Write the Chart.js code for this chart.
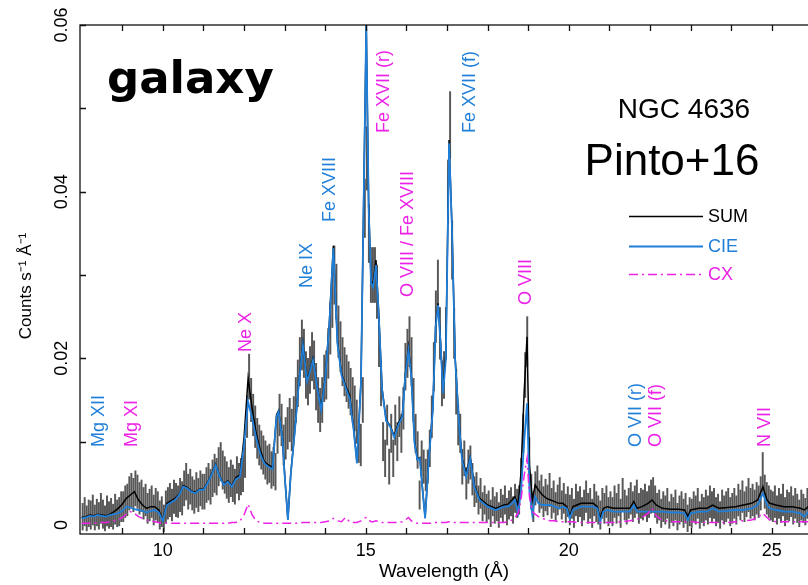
<!DOCTYPE html>
<html><head><meta charset="utf-8">
<script src="https://cdn.jsdelivr.net/npm/chart.js@4.4.1/dist/chart.umd.min.js"></script>
<style>html,body{margin:0;padding:0;background:#fff;} canvas{display:block;}</style>
</head><body>
<canvas id="c" width="808" height="585"></canvas>
<script>
// ---------- data (counts in units of 1e-4 counts s^-1 A^-1) ----------
const UNIT = 1e-4;
const binStart = 8.025;   // first bin centre (A)
const binWidth = 0.05;    // bin width (A)
const countsData = [
 10,16,8,14,12,18,9,15,11,20,13,8,17,12,15,10,19,14,16,22,
 22,28,30,38,42,36,44,40,32,35,26,30,20,24,28,18,25,22,12,16,
 8,22,26,30,24,34,30,28,36,32,44,52,40,46,38,34,42,36,44,40,
 40,48,52,46,56,62,58,70,76,66,60,54,48,56,50,46,60,52,58,62,
 80,130,178,150,132,118,104,96,90,84,78,72,74,66,70,64,110,132,120,96,
 104,116,126,114,128,150,170,196,216,206,180,172,186,202,192,166,150,138,150,176,
 180,206,236,270,300,280,232,214,196,184,176,168,160,150,140,124,100,96,150,380,
 440,350,300,300,300,280,220,170,100,80,120,70,110,80,120,100,130,110,140,190,
 206,220,196,150,110,90,36,80,70,60,70,92,130,190,250,285,230,170,180,230,
 400,480,330,230,160,120,110,70,80,50,70,75,55,40,45,30,38,22,30,20,
 24,14,28,18,22,12,26,20,30,16,24,28,18,32,26,30,60,110,180,220,
 80,40,22,44,50,34,40,28,36,30,42,26,34,22,30,38,24,32,20,28,
 18,26,14,30,22,28,16,24,34,20,26,14,30,22,18,12,26,20,28,16,
 22,16,28,20,30,14,36,24,18,26,32,22,28,34,20,26,24,30,22,28,
 34,36,28,20,24,14,22,18,26,12,20,16,24,10,18,22,14,20,8,16,
 14,22,18,26,12,20,16,24,18,28,22,26,16,20,12,24,18,22,26,16,
 20,26,18,30,24,34,22,28,36,26,30,24,32,28,38,62,40,32,28,24,
 22,28,18,26,20,30,16,24,22,28,18,26,20,14,24,20,16,26,18,22
];
const countsErr = [
 16,17,15,16,17,18,15,16,16,18,17,15,18,16,17,15,18,16,17,18,
 18,19,19,20,20,20,21,20,19,19,19,19,18,19,19,18,19,18,17,18,
 16,19,19,20,19,20,20,19,20,20,21,22,21,21,20,20,21,20,21,21,
 21,21,22,21,22,23,22,23,23,23,22,22,21,22,22,21,22,22,22,22,
 23,25,27,26,25,25,24,24,23,23,23,23,23,22,23,22,24,25,25,24,
 25,25,26,25,26,27,28,29,30,29,28,28,28,29,29,28,27,26,27,28,
 29,30,31,33,35,33,31,30,29,29,28,28,28,27,27,26,25,25,27,35,
 38,35,33,33,33,32,30,27,23,22,24,21,23,22,24,23,24,23,25,28,
 29,30,29,26,23,22,17,21,20,19,20,22,25,29,31,33,31,27,28,31,
 38,40,35,30,27,24,23,21,21,19,20,20,19,18,18,17,18,17,17,17,
 17,16,17,16,17,15,17,16,17,16,17,17,16,17,17,17,20,23,27,30,
 25,21,18,20,21,19,20,18,19,18,20,18,19,17,18,19,17,18,17,18,
 18,18,17,19,18,18,17,18,19,18,18,17,19,18,17,17,18,18,19,17,
 18,17,19,18,19,17,20,18,17,18,19,18,19,20,18,18,18,19,18,19,
 20,21,19,18,18,17,18,17,18,16,17,17,18,16,17,18,17,18,16,17,
 17,18,17,18,16,17,17,18,17,19,18,18,17,17,16,18,17,18,18,17,
 18,18,17,19,18,19,18,18,20,18,19,18,19,19,20,25,20,19,19,18,
 18,19,17,18,17,19,17,18,17,18,17,18,17,16,18,17,16,18,17,17
];
const modelWave = [
 8.0,8.1,8.2,8.3,8.4,8.5,8.6,8.7,8.8,8.9,
 9.0,9.1,9.2,9.3,9.4,9.5,9.6,9.7,9.8,9.9,
 10.0,10.1,10.2,10.3,10.4,10.5,10.6,10.7,10.8,10.9,
 11.0,11.1,11.2,11.3,11.4,11.5,11.6,11.7,11.8,11.9,
 12.0,12.1,12.2,12.3,12.4,12.5,12.6,12.7,12.8,12.85,12.95,
 13.0,13.08,13.15,13.25,13.35,13.45,13.55,13.6,13.7,13.8,13.9,
 14.0,14.1,14.2,14.3,14.4,14.5,14.6,14.7,14.78,14.88,14.95,
 15.01,15.07,15.13,15.18,15.25,15.32,15.4,15.5,15.6,15.7,15.8,15.9,15.97,
 16.05,16.12,16.2,16.27,16.33,16.4,16.46,16.55,16.65,16.72,16.78,16.84,16.9,16.97,
 17.05,17.12,17.2,17.3,17.37,17.47,17.57,17.67,17.8,17.9,
 18.0,18.1,18.2,18.3,18.4,18.5,18.6,18.67,18.75,18.82,18.9,18.97,
 19.03,19.1,19.17,19.25,19.35,19.45,19.55,19.65,19.75,19.85,19.95,
 20.02,20.1,20.2,20.3,20.45,20.6,20.7,20.77,20.85,20.95,
 21.1,21.3,21.5,21.6,21.68,21.8,21.95,22.05,22.15,22.3,22.5,22.7,22.85,22.93,
 23.0,23.2,23.4,23.54,23.7,23.9,24.1,24.3,24.5,24.65,24.78,24.88,24.95,
 25.1,25.3,25.5,25.7,25.8,25.9
];
const cieVals = [
 8,9,11,10,12,11,10,12,13,14,
 17,22,21,19,18,17,15,17,18,15,
 5,24,27,30,36,46,44,40,38,42,
 42,50,60,72,58,48,52,46,55,58,
 95,148,128,104,85,74,70,67,130,136,102,
 60,6,60,112,170,216,172,180,198,165,138,
 175,240,332,218,180,165,152,114,74,170,400,
 600,380,290,285,312,250,162,125,118,105,120,130,178,
 210,178,98,78,80,40,8,78,138,238,264,218,158,198,
 458,358,198,118,78,58,80,46,30,26,
 22,20,18,20,22,22,26,30,14,40,100,146,
 40,12,34,26,24,24,24,22,20,22,20,
 8,18,20,22,22,22,20,4,16,18,
 16,16,16,24,16,16,16,16,16,16,15,15,14,6,
 14,16,16,20,16,17,18,18,20,24,38,24,20,
 18,16,16,14,10,16
];
const sumVals = [
 9,10,12,11,13,12,11,13,16,20,
 25,32,36,40,30,24,20,22,22,18,
 6,26,29,32,37,47,45,41,39,43,
 43,51,61,73,59,49,53,47,57,60,
 105,176,140,110,90,76,72,69,132,137,103,
 61,7,61,113,171,218,174,182,200,167,140,
 177,242,335,220,182,167,156,116,76,172,402,
 600,382,292,290,318,252,164,126,119,107,122,132,180,
 214,180,100,79,81,41,9,79,140,240,266,220,162,205,
 462,360,200,120,80,62,82,48,32,28,
 24,22,20,22,24,25,30,34,24,62,160,226,
 72,30,48,42,36,32,30,28,26,26,22,
 10,22,24,26,26,26,22,8,20,22,
 20,20,20,28,20,22,26,30,24,20,19,19,18,10,
 18,20,20,24,20,21,22,24,26,30,46,30,26,
 24,22,22,20,18,22
];
const cxVals = [
 2,2,2,2,3,3,3,4,5,6,
 9,13,16,14,10,8,6,5,4,3,
 2,2,2,2,2,2,2,2,2,2,
 2,2,2,2,2,2,2,3,3,5,
 12,25,12,5,3,2,2,2,2,2,2,
 2,2,2,2,2,3,3,3,3,3,3,
 4,5,8,5,4,9,4,3,3,5,8,
 9,6,4,4,5,4,3,3,3,3,3,4,6,
 9,5,3,2,2,2,2,2,2,3,3,3,3,3,
 4,3,3,3,3,3,3,3,3,3,
 3,3,3,3,3,4,6,9,14,30,60,80,
 34,16,13,10,8,6,5,5,4,4,4,
 4,4,3,3,3,3,3,3,3,3,
 3,4,5,6,7,9,14,20,11,6,4,4,4,4,
 4,3,3,3,3,3,4,5,6,9,14,9,6,
 4,4,4,4,4,4
];
const xTickLabels = [10, 15, 20, 25];
const yTickLabels = [0, 0.02, 0.04, 0.06];
const lineNames = ['Mg XII','Mg XI','Ne X','Ne IX','Fe XVIII','Fe XVII (r)','O VIII / Fe XVIII','Fe XVII (f)','O VIII','O VII (r)','O VII (f)','N VII'];
const lineWaves = [8.42, 9.24, 12.04, 13.54, 14.13, 15.45, 16.04, 17.57, 18.94, 21.65, 22.14, 24.82];
const lineComponent = ['CIE','CX','CX','CIE','CIE','CX','CX','CIE','CX','CIE','CX','CX'];
const seriesNames = ['SUM','CIE','CX'];

// ---------- layout / style ----------
const lineLabelBase = [0.00936,0.00936,0.02076,0.02844,0.03636,0.04704,0.02736,0.04704,0.0264,0.00936,0.00936,0.00936];
const BLUE = '#1f7fd9', MAGENTA = '#ec22e6', GRAY = '#575757';
const FAM = '"Liberation Sans", Arial, Helvetica, sans-serif';
Chart.defaults.font.family = FAM;
Chart.defaults.color = '#000';

const barData = countsData.map((v, i) => ({
  x: binStart + i * binWidth,
  y: [(v - countsErr[i]) * UNIT, (v + countsErr[i]) * UNIT]
}));
const mk = arr => modelWave.map((w, i) => ({ x: w, y: arr[i] * UNIT }));

const overlay = {
  id: 'overlay',
  afterDraw(chart) {
    const { ctx, chartArea: a, scales: { x, y } } = chart;
    ctx.save();
    // frame
    ctx.strokeStyle = '#111'; ctx.lineWidth = 1.3;
    ctx.strokeRect(a.left, a.top, a.right - a.left + 4, a.bottom - a.top);
    // inward ticks
    ctx.beginPath();
    x.ticks.forEach(t => {
      if (Math.abs(t.value - Math.round(t.value)) > 1e-6) return;
      const px = Math.round(x.getPixelForValue(t.value)) + 0.5;
      if (px <= a.left + 3) return;
      ctx.moveTo(px, a.bottom); ctx.lineTo(px, a.bottom - 6);
      ctx.moveTo(px, a.top); ctx.lineTo(px, a.top + 6);
    });
    y.ticks.forEach(t => {
      const r = t.value / 0.01;
      if (t.value < -1e-9 || Math.abs(r - Math.round(r)) > 1e-6) return;
      const py = Math.round(y.getPixelForValue(t.value)) + 0.5;
      ctx.moveTo(a.left, py); ctx.lineTo(a.left + 6, py);
    });
    ctx.stroke();
    // y tick labels (rotated)
    ctx.fillStyle = '#000';
    ctx.font = '18px ' + FAM;
    ctx.textAlign = 'center'; ctx.textBaseline = 'middle';
    yTickLabels.forEach(v => {
      const py = y.getPixelForValue(v);
      ctx.save(); ctx.translate(62, py); ctx.rotate(-Math.PI / 2);
      ctx.fillText(v === 0 ? '0' : v.toFixed(2), 0, 0); ctx.restore();
    });
    // y title
    ctx.font = '17px ' + FAM;
    ctx.save(); ctx.translate(26, 286); ctx.rotate(-Math.PI / 2);
    ctx.fillText('Counts s\u207B\u00B9 \u00C5\u207B\u00B9', 0, 0); ctx.restore();
    // line identifications
    ctx.font = '18px ' + FAM;
    ctx.textAlign = 'left'; ctx.textBaseline = 'middle';
    lineNames.forEach((n, i) => {
      const px = x.getPixelForValue(lineWaves[i]);
      const py = y.getPixelForValue(lineLabelBase[i]);
      ctx.fillStyle = lineComponent[i] === 'CIE' ? BLUE : MAGENTA;
      ctx.save(); ctx.translate(px, py); ctx.rotate(-Math.PI / 2);
      ctx.fillText(n, 0, 0); ctx.restore();
    });
    // legend
    const legY = [216, 246, 274];
    const ds = chart.data.datasets;
    seriesNames.forEach((n, i) => {
      const d = ds[i];
      ctx.strokeStyle = d.borderColor; ctx.lineWidth = d.borderWidth;
      ctx.setLineDash(d.borderDash || []);
      ctx.beginPath(); ctx.moveTo(629, legY[i] + 0.5); ctx.lineTo(703, legY[i] + 0.5); ctx.stroke();
      ctx.setLineDash([]);
      ctx.fillStyle = i === 0 ? '#000' : d.borderColor;
      ctx.font = '18px ' + FAM;
      ctx.textAlign = 'left'; ctx.textBaseline = 'middle';
      ctx.fillText(n, 708, legY[i] + 1);
    });
    // titles
    ctx.fillStyle = '#000';
    ctx.textBaseline = 'alphabetic';
    ctx.textAlign = 'center';
    ctx.font = '28px ' + FAM;
    ctx.fillText('NGC 4636', 684, 118);
    ctx.font = '44px ' + FAM;
    ctx.fillText('Pinto+16', 672, 175);
    ctx.textAlign = 'left';
    ctx.font = 'bold 45px "DejaVu Sans", sans-serif';
    ctx.fillText('galaxy', 107, 93);
    ctx.restore();
  }
};

new Chart(document.getElementById('c'), {
  type: 'line',
  data: {
    datasets: [
      { label: 'SUM', data: mk(sumVals), borderColor: '#000', borderWidth: 1.5, pointRadius: 0, tension: 0, order: 2 },
      { label: 'CIE', data: mk(cieVals), borderColor: BLUE, borderWidth: 1.8, pointRadius: 0, tension: 0, order: 1 },
      { label: 'CX', data: mk(cxVals), borderColor: MAGENTA, borderWidth: 1.5, borderDash: [9, 4, 2, 4], pointRadius: 0, tension: 0, order: 0 },
      { type: 'bar', label: 'data', data: barData, backgroundColor: GRAY, borderWidth: 0, barThickness: 1.3, order: 3 }
    ]
  },
  options: {
    responsive: false,
    animation: false,
    events: [],
    layout: { padding: { top: 25, right: 0, left: 0, bottom: 0 } },
    plugins: { legend: { display: false }, tooltip: { enabled: false } },
    scales: {
      x: {
        type: 'linear', min: 7.96, max: 25.89, offset: false,
        grid: { display: false, drawTicks: false, offset: false },
        border: { display: false },
        ticks: {
          stepSize: 1, autoSkip: false, maxRotation: 0, padding: 6, includeBounds: false,
          font: { size: 18 }, color: '#000',
          callback: v => xTickLabels.includes(v) ? String(v) : ''
        },
        title: { display: true, text: 'Wavelength (\u00C5)', font: { size: 19 }, color: '#000', padding: { top: 0, bottom: 2 } },
        afterFit: s => { s.height = 51; }
      },
      y: {
        type: 'linear', min: -0.00108, max: 0.06,
        grid: { display: false, drawTicks: false },
        border: { display: false },
        ticks: { display: false, stepSize: 0.01 },
        afterFit: s => { s.width = 80; }
      }
    }
  },
  plugins: [overlay]
});
</script>
</body></html>
